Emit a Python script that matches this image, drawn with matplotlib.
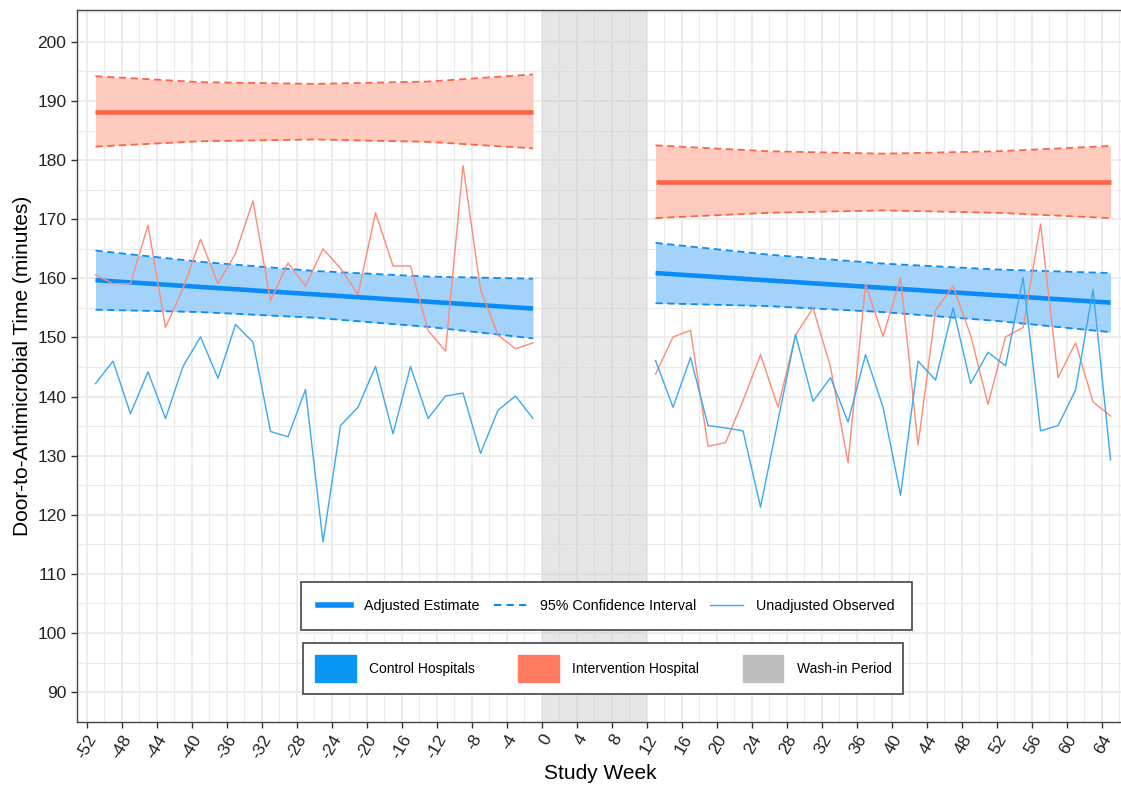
import matplotlib
matplotlib.use("Agg")
import matplotlib.pyplot as plt
from matplotlib.lines import Line2D
from matplotlib.patches import Patch

plt.rcParams["font.family"] = ["Liberation Sans", "DejaVu Sans"]
plt.rcParams["axes.unicode_minus"] = False

# observed weekly values (odd weeks)
semaines_avant = list(range(-51, 0, 2))
semaines_apres = list(range(13, 66, 2))

ctrl_avant = [142.2, 146.0, 137.1, 144.2, 136.3, 145.1, 150.1, 143.1, 152.2, 149.2,
              134.1, 133.2, 141.2, 115.4, 135.1, 138.2, 145.1, 133.7, 145.1, 136.3,
              140.1, 140.6, 130.4, 137.7, 140.1, 136.3]
interv_avant = [160.6, 159.1, 159.1, 169.0, 151.7, 158.3, 166.6, 159.1, 164.2, 173.1,
                156.2, 162.6, 158.7, 165.0, 161.7, 157.3, 171.1, 162.1, 162.1, 151.2,
                147.7, 179.1, 158.1, 150.4, 148.1, 149.1]
ctrl_apres = [146.1, 138.2, 146.6, 135.1, 134.7, 134.2, 121.3, 136.0, 150.5, 139.2,
              143.2, 135.7, 147.1, 138.2, 123.3, 146.0, 142.8, 155.0, 142.2, 147.5,
              145.2, 160.1, 134.2, 135.1, 141.1, 158.1, 129.3]
interv_apres = [143.8, 150.1, 151.2, 131.6, 132.2, 139.3, 147.1, 138.2, 150.4, 155.0,
                145.0, 128.8, 159.0, 150.2, 160.1, 131.8, 154.6, 158.7, 150.4, 138.7,
                150.1, 151.7, 169.2, 143.2, 149.1, 139.1, 136.7]

# adjusted estimate and 95% CI, read at five weeks per period
sem_ic_avant = [-51, -39, -26, -13, -1]
sem_ic_apres = [13, 26, 39, 52, 65]

ctrl_est_avant = [159.7, 158.55, 157.3, 156.05, 154.9]
ctrl_haut_avant = [164.7, 162.8, 161.25, 160.3, 159.95]
ctrl_bas_avant = [154.7, 154.3, 153.35, 151.8, 149.85]

interv_est_avant = [188.2, 188.2, 188.2, 188.2, 188.2]
interv_haut_avant = [194.2, 193.2, 192.9, 193.3, 194.5]
interv_bas_avant = [182.3, 183.2, 183.5, 183.1, 182.0]

ctrl_est_apres = [160.9, 159.65, 158.4, 157.15, 155.9]
ctrl_haut_apres = [166.0, 164.0, 162.5, 161.5, 160.9]
ctrl_bas_apres = [155.8, 155.3, 154.3, 152.8, 150.9]

interv_est_apres = [176.3, 176.3, 176.3, 176.3, 176.3]
interv_haut_apres = [182.5, 181.5, 181.1, 181.5, 182.4]
interv_bas_apres = [170.2, 171.1, 171.5, 171.1, 170.2]

washin = (0, 12)

BLEU = "#0A8BF5"
BLEU_FILL = "#A3D3FA"
BLEU_OBS = "#3AA8F5"
ROUGE = "#FF6446"
ROUGE_FILL = "#FFCBBE"
ROUGE_OBS = "#FF8A76"

fig = plt.figure(figsize=(11.21, 7.89), dpi=100)
ax = fig.add_axes([0.0684, 0.0853, 0.934, 0.902])

ax.axvspan(washin[0], washin[1], color="#c8c8c8", alpha=0.45, lw=0, zorder=1)

def bande(sem, est, haut, bas, c, cf):
    ax.fill_between(sem, bas, haut, color=cf, lw=0, zorder=2)
    ax.plot(sem, haut, color=c, lw=1.3, dashes=(4, 2.5), zorder=3)
    ax.plot(sem, bas, color=c, lw=1.3, dashes=(4, 2.5), zorder=3)
    ax.plot(sem, est, color=c, lw=3.3, zorder=4, solid_capstyle="butt")

bande(sem_ic_avant, ctrl_est_avant, ctrl_haut_avant, ctrl_bas_avant, BLEU, BLEU_FILL)
bande(sem_ic_avant, interv_est_avant, interv_haut_avant, interv_bas_avant, ROUGE, ROUGE_FILL)
bande(sem_ic_apres, ctrl_est_apres, ctrl_haut_apres, ctrl_bas_apres, BLEU, BLEU_FILL)
bande(sem_ic_apres, interv_est_apres, interv_haut_apres, interv_bas_apres, ROUGE, ROUGE_FILL)

ax.plot(semaines_avant, interv_avant, color=ROUGE_OBS, lw=1.0, zorder=5)
ax.plot(semaines_apres, interv_apres, color=ROUGE_OBS, lw=1.0, zorder=5)
ax.plot(semaines_avant, ctrl_avant, color=BLEU_OBS, lw=1.0, zorder=5)
ax.plot(semaines_apres, ctrl_apres, color=BLEU_OBS, lw=1.0, zorder=5)

ax.set_xlim(-53.15, 66.5)
ax.set_ylim(85, 205.4)
ax.set_xticks(range(-52, 65, 4))
ax.set_xticks(range(-52, 67, 2), minor=True)
ax.set_yticks(range(90, 201, 10))
ax.set_yticks(range(85, 206, 5), minor=True)
ax.grid(which="major", color="#ebebeb", lw=1.3, zorder=0)
ax.grid(which="minor", color="#ebebeb", lw=0.8, zorder=0)
ax.set_axisbelow(True)
ax.tick_params(which="minor", length=0)
ax.tick_params(which="major", length=4, width=1, color="#333333", labelsize=12.5,
               labelcolor="#222222")
plt.setp(ax.get_xticklabels(), rotation=60, ha="right", rotation_mode="anchor")
for s in ax.spines.values():
    s.set_color("#444444")
    s.set_linewidth(1)

ax.set_xlabel("Study Week", fontsize=15, labelpad=2)
ax.set_ylabel("Door-to-Antimicrobial Time (minutes)", fontsize=15, labelpad=4)

h1 = [Line2D([], [], color=BLEU, lw=4),
      Line2D([], [], color=BLEU, lw=1.5, dashes=(3.5, 2.5)),
      Line2D([], [], color=BLEU_OBS, lw=1.0)]
leg1 = ax.legend(h1, ["Adjusted Estimate", "95% Confidence Interval", "Unadjusted Observed"],
                 loc="center", bbox_to_anchor=(0.506, 0.163), ncol=3, fontsize=10.3,
                 handlelength=2.3, columnspacing=1.0, handletextpad=0.9,
                 fancybox=False, framealpha=1, edgecolor="#444444", borderpad=1.2)
leg1.get_frame().set_linewidth(1.2)
ax.add_artist(leg1)

h2 = [Patch(color="#0A96F5"), Patch(color="#FF7A60"), Patch(color="#BEBEBE")]
leg2 = ax.legend(h2, ["Control Hospitals", "Intervention Hospital", "Wash-in Period"],
                 loc="center", bbox_to_anchor=(0.503, 0.0747), ncol=3, fontsize=10,
                 handlelength=2.95, handleheight=2.7, columnspacing=3.1, handletextpad=0.95,
                 fancybox=False, framealpha=1, edgecolor="#444444", borderpad=0.85)
leg2.get_frame().set_linewidth(1.2)

fig.savefig("out.png", dpi=100)
